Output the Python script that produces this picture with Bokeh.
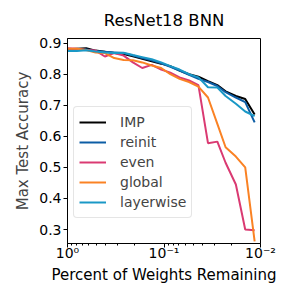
from bokeh.plotting import figure
from bokeh.models import Range1d, Legend, LegendItem, FixedTicker, NumeralTickFormatter, Title
from bokeh.embed import file_html
from bokeh.resources import INLINE

# fraction of weights remaining (x) for each pruning round
weights_remaining = [1.0, 0.8, 0.64, 0.512, 0.41, 0.328, 0.262, 0.21, 0.168, 0.134,
                     0.107, 0.086, 0.069, 0.055, 0.044, 0.035, 0.028, 0.023, 0.018,
                     0.0144, 0.0115]

imp = [0.880, 0.882, 0.884, 0.876, 0.872, 0.868, 0.865, 0.858, 0.850, 0.842,
       0.834, 0.826, 0.812, 0.800, 0.792, 0.778, 0.765, 0.745, 0.730, 0.720, 0.670]
reinit = [0.878, 0.878, 0.880, 0.875, 0.872, 0.870, 0.868, 0.860, 0.852, 0.845,
          0.835, 0.824, 0.812, 0.798, 0.785, 0.775, 0.762, 0.742, 0.725, 0.710, 0.645]
even = [0.884, 0.882, 0.878, 0.876, 0.857, 0.868, 0.860, 0.838, 0.820, 0.830,
        0.815, 0.805, 0.790, 0.780, 0.765, 0.578, 0.583, 0.515, 0.445, 0.300, 0.298]
global_ = [0.882, 0.882, 0.878, 0.870, 0.868, 0.852, 0.846, 0.845, 0.838, 0.828,
           0.820, 0.800, 0.785, 0.775, 0.760, 0.725, 0.640, 0.565, 0.535, 0.500, 0.262]
layerwise = [0.875, 0.875, 0.877, 0.873, 0.870, 0.868, 0.869, 0.862, 0.855, 0.848,
             0.838, 0.826, 0.815, 0.800, 0.790, 0.758, 0.757, 0.730, 0.705, 0.680, 0.665]

series = [("IMP", imp, "#000000"),
          ("reinit", reinit, "#0C5DA5"),
          ("even", even, "#DA3A72"),
          ("global", global_, "#FA8224"),
          ("layerwise", layerwise, "#1A98C6")]

y_ticks = [0.3, 0.4, 0.5, 0.6, 0.7, 0.8, 0.9]
x_major_ticks = [1.0, 0.1, 0.01]
x_tick_labels = ["10⁰", "10⁻¹", "10⁻²"]
x_minor_ticks = [0.9, 0.8, 0.7, 0.6, 0.5, 0.4, 0.3, 0.2,
                 0.09, 0.08, 0.07, 0.06, 0.05, 0.04, 0.03, 0.02]
x_label = "Percent of Weights Remaining"
y_label = "Max Test Accuracy"

FONT = "DejaVu Sans"

p = figure(width=283, height=283, x_axis_type="log",
           x_range=Range1d(1.0, 0.01), y_range=Range1d(0.255, 0.915),
           output_backend="svg", toolbar_location=None,
           title="ResNet18 BNN",
           min_border_left=67, min_border_right=23, min_border_top=36, min_border_bottom=0)

p.title.align = "center"
p.title.text_font = FONT
p.title.text_font_size = "16.5px"
p.title.text_font_style = "normal"
p.title.text_color = "#000000"
p.title.standoff = 17

p.xgrid.visible = False
p.ygrid.visible = False
p.outline_line_color = "#000000"
p.outline_line_width = 1
p.outline_line_alpha = 1

items = []
for name, vals, col in series:
    r = p.line(weights_remaining, vals, line_color=col, line_width=2)
    items.append(LegendItem(label=name, renderers=[r]))

for ax in (p.xaxis[0], p.yaxis[0]):
    ax.major_label_text_font = FONT
    ax.major_label_text_font_size = "14px"
    ax.major_label_text_color = "#000000"
    ax.major_label_text_line_height = 1.0
    ax.axis_label_text_font = FONT
    ax.axis_label_text_font_size = "15px"
    ax.axis_label_text_font_style = "normal"
    ax.axis_line_color = "#000000"
    ax.major_tick_line_color = "#000000"
    ax.minor_tick_line_color = "#000000"
    ax.major_tick_in = 0
    ax.major_tick_out = 4
    ax.minor_tick_in = 0
    ax.minor_tick_out = 2

p.xaxis.major_label_standoff = -3
p.yaxis.major_label_standoff = 2
p.yaxis.axis_label_standoff = 4

p.yaxis.axis_label = y_label
p.yaxis.ticker = FixedTicker(ticks=y_ticks)
p.yaxis.minor_tick_line_color = None
p.yaxis.formatter = NumeralTickFormatter(format="0.0")
p.xaxis.ticker = FixedTicker(ticks=x_major_ticks, minor_ticks=x_minor_ticks)
p.xaxis.major_label_overrides = dict(zip(x_major_ticks, x_tick_labels))

# x-axis title placed below the tick labels
xlab = Title(text=x_label, align="center", standoff=0,
             text_font=FONT, text_font_size="15px", text_font_style="normal",
             text_color="#000000", text_line_height=1.0)
p.add_layout(xlab, "below")

legend = Legend(items=items, location=(6, 25))
legend.label_text_font = FONT
legend.label_text_font_size = "14px"
legend.label_text_line_height = 1.0
legend.glyph_width = 27
legend.glyph_height = 20
legend.label_height = 20
legend.label_standoff = 14
legend.spacing = 0
legend.padding = 5
legend.margin = 0
legend.border_line_color = "#cccccc"
legend.border_line_width = 1
legend.border_radius = 4
legend.background_fill_alpha = 0.8
p.add_layout(legend)

open("out.html", "w").write(file_html(p, INLINE))
